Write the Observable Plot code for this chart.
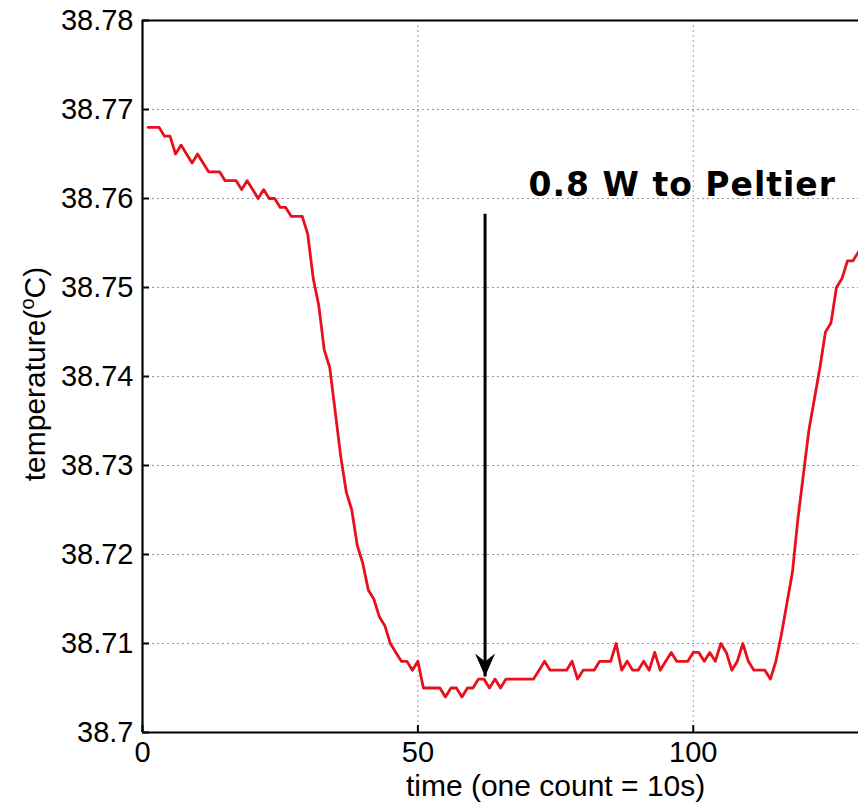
<!DOCTYPE html>
<html><head><meta charset="utf-8">
<script src="https://cdn.jsdelivr.net/npm/d3@7"></script>
<script src="https://cdn.jsdelivr.net/npm/@observablehq/plot@0.6"></script>
<style>
html,body{margin:0;padding:0;background:#fff;}
#chart{width:858px;height:806px;overflow:hidden;}
</style></head><body><div id="chart"></div>
<script>
// temperature readings, one per count starting at count 1
const temps = [
  38.768, 38.768, 38.768, 38.767, 38.767, 38.765, 38.766, 38.765, 38.764, 38.765,
  38.764, 38.763, 38.763, 38.763, 38.762, 38.762, 38.762, 38.761, 38.762, 38.761,
  38.760, 38.761, 38.760, 38.760, 38.759, 38.759, 38.758, 38.758, 38.758, 38.756,
  38.751, 38.748, 38.743, 38.741, 38.736, 38.731, 38.727, 38.725, 38.721, 38.719,
  38.716, 38.715, 38.713, 38.712, 38.710, 38.709, 38.708, 38.708, 38.707, 38.708,
  38.705, 38.705, 38.705, 38.705, 38.704, 38.705, 38.705, 38.704, 38.705, 38.705,
  38.706, 38.706, 38.705, 38.706, 38.705, 38.706, 38.706, 38.706, 38.706, 38.706,
  38.706, 38.707, 38.708, 38.707, 38.707, 38.707, 38.707, 38.708, 38.706, 38.707,
  38.707, 38.707, 38.708, 38.708, 38.708, 38.710, 38.707, 38.708, 38.707, 38.707,
  38.708, 38.707, 38.709, 38.707, 38.708, 38.709, 38.708, 38.708, 38.708, 38.709,
  38.709, 38.708, 38.709, 38.708, 38.710, 38.709, 38.707, 38.708, 38.710, 38.708,
  38.707, 38.707, 38.707, 38.706, 38.708, 38.711, 38.7145, 38.718, 38.724, 38.729,
  38.734, 38.7375, 38.741, 38.745, 38.746, 38.750, 38.751, 38.753, 38.753, 38.754
];
const xTicks = [0, 50, 100];
const xTickLabels = ["0", "50", "100"];
const yTicks = [38.70, 38.71, 38.72, 38.73, 38.74, 38.75, 38.76, 38.77, 38.78];
const yTickLabels = ["38.7", "38.71", "38.72", "38.73", "38.74", "38.75", "38.76", "38.77", "38.78"];
const xDomain = [0, 130];
const yDomain = [38.70, 38.78];
const xLabel = ["time (one count = 10s)"];
const xLabelAt = [75];
const yLabelParts = ["temperature(", "o", "C)"];
const annotations = [{label: "0.8 W to Peltier", x: 70.1, y: 38.7615}];
const arrows = [{x: 62.2, y1: 38.7583, y2: 38.7063}];

const series = temps.map((v, i) => ({t: i + 1, temp: v}));
const FONT = "'Liberation Sans', Arial, Helvetica, sans-serif";

const headSymbol = {
  draw(ctx) {
    ctx.moveTo(0, 0);
    ctx.lineTo(-10, -23);
    ctx.lineTo(0, -15);
    ctx.lineTo(10, -23);
    ctx.closePath();
  }
};

const chart = Plot.plot({
  width: 858,
  height: 806,
  marginLeft: 142,
  marginRight: 0,
  marginTop: 20,
  marginBottom: 74,
  style: {fontFamily: FONT, fontSize: "29px", background: "#fff", color: "#000", overflow: "visible"},
  x: {domain: xDomain, label: null},
  y: {domain: yDomain, label: null},
  marks: [
    Plot.gridY({ticks: yTicks, stroke: "#8f8f8f", strokeOpacity: 0.9, strokeDasharray: "2,3"}),
    Plot.gridX({ticks: [50, 100], stroke: "#8f8f8f", strokeOpacity: 0.9, strokeDasharray: "2,3"}),
    Plot.axisY({ticks: yTicks, tickSize: 0, tickPadding: 9, tickFormat: (d, i) => yTickLabels[i], fontSize: 29}),
    Plot.axisY({ticks: yTicks, tickSize: -7, tickFormat: () => "", strokeWidth: 2}),
    Plot.axisX({ticks: xTicks, tickSize: 0, tickPadding: 9, tickFormat: (d, i) => xTickLabels[i], fontSize: 29}),
    Plot.axisX({ticks: xTicks, tickSize: -7, tickFormat: () => "", strokeWidth: 2}),
    Plot.ruleX([xDomain[0]], {stroke: "#000", strokeWidth: 2.2}),
    Plot.ruleY(yDomain, {stroke: "#000", strokeWidth: 2.2}),
    Plot.line(series, {x: "t", y: "temp", stroke: "#e8111b", strokeWidth: 2.8}),
    Plot.link(arrows, {x1: "x", x2: "x", y1: "y1", y2: "y2", stroke: "#000", strokeWidth: 3}),
    Plot.dot(arrows, {x: "x", y: "y2", symbol: headSymbol, fill: "#000", stroke: "none", r: 10}),
    Plot.text(annotations, {x: "x", y: "y", text: "label", textAnchor: "start", fontFamily: "'DejaVu Sans', sans-serif", fontWeight: "bold", fontSize: 33, fill: "#000", style: {letterSpacing: "1px"}}),
    Plot.text(xLabel, {x: xLabelAt, text: d => d, frameAnchor: "bottom", dy: 63, fontSize: 30, fill: "#000"})
  ]
});

document.getElementById("chart").appendChild(chart);

// rotated y-axis label with superscript "o"
const svg = d3.select(chart.tagName.toLowerCase() === "svg" ? chart : chart.querySelector("svg"));
svg.selectAll("text").filter(function() { return this.textContent === annotations[0].label; }).style("letter-spacing", "1px");
const yl = svg.append("text")
  .attr("transform", "translate(45,374) rotate(-90)")
  .attr("text-anchor", "middle")
  .attr("fill", "#000")
  .style("font-family", FONT)
  .style("font-size", "30px");
yl.append("tspan").text(yLabelParts[0]);
yl.append("tspan").attr("dy", -11).style("font-size", "20px").text(yLabelParts[1]);
yl.append("tspan").attr("dy", 11).text(yLabelParts[2]);
</script>
</body></html>
